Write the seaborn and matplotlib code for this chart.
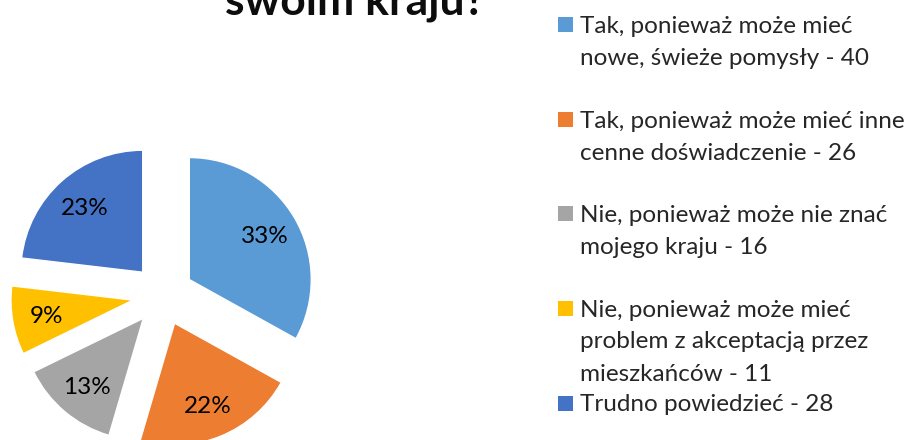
import matplotlib
matplotlib.use("Agg")
import matplotlib.pyplot as plt
from matplotlib.patches import Rectangle
import seaborn as sns

# data
categories = [
    "Tak, ponieważ może mieć\nnowe, świeże pomysły",
    "Tak, ponieważ może mieć inne\ncenne doświadczenie",
    "Nie, ponieważ może nie znać\nmojego kraju",
    "Nie, ponieważ może mieć\nproblem z akceptacją przez\nmieszkańców",
    "Trudno powiedzieć",
]
counts = [40, 26, 16, 11, 28]
pct_labels = ["33%", "22%", "13%", "9%", "23%"]
colors = ["#5B9BD5", "#ED7D31", "#A5A5A5", "#FFC000", "#4472C4"]
title = "swoim kraju?"

sns.set_theme(style="white")
plt.rcParams["font.family"] = ["Lato", "DejaVu Sans"]

W, H = 913, 440
fig = plt.figure(figsize=(W / 100, H / 100), dpi=100)

# pie: center (163, 295) px from top-left, radius 122 px
r_px = 122
cx, cy = 163, H - 295
half = 1.5 * r_px
ax = fig.add_axes([(cx - half) / W, (cy - half) / H, 2 * half / W, 2 * half / H])
labels_iter = iter(pct_labels)
wedges, texts, autotexts = ax.pie(
    counts,
    colors=colors,
    explode=[0.25] * len(counts),
    startangle=90,
    counterclock=False,
    autopct=lambda p: next(labels_iter),
    pctdistance=0.72,
    textprops={"fontsize": 17.5, "color": "black"},
)
for t in autotexts:
    t.set_ha("center")
    t.set_va("center_baseline")
ax.set_xlim(-1.5, 1.5)
ax.set_ylim(-1.5, 1.5)
ax.set_aspect("equal")
ax.axis("off")

# title (only the last line is visible in the frame)
fig.text(355 / W, 1 - 14 / H, title, ha="center", va="baseline",
         fontsize=32, fontweight="bold", color="#0d0d0d")

# legend, laid out in fixed slots
slot = 94.5
line_h = 32
for i, (lab, n, col) in enumerate(zip(categories, counts, colors)):
    yc = 25 + i * slot
    fig.patches.append(Rectangle((558 / W, 1 - (yc + 7.5) / H), 15 / W, 15 / H,
                                 transform=fig.transFigure, facecolor=col,
                                 edgecolor="none", figure=fig))
    lines = f"{lab} - {n}".split("\n")
    for j, line in enumerate(lines):
        fig.text(580 / W, 1 - (yc + 8 + j * line_h) / H, line, ha="left",
                 va="baseline", fontsize=17.5, color="#262626")

fig.savefig("out.png", dpi=100)
